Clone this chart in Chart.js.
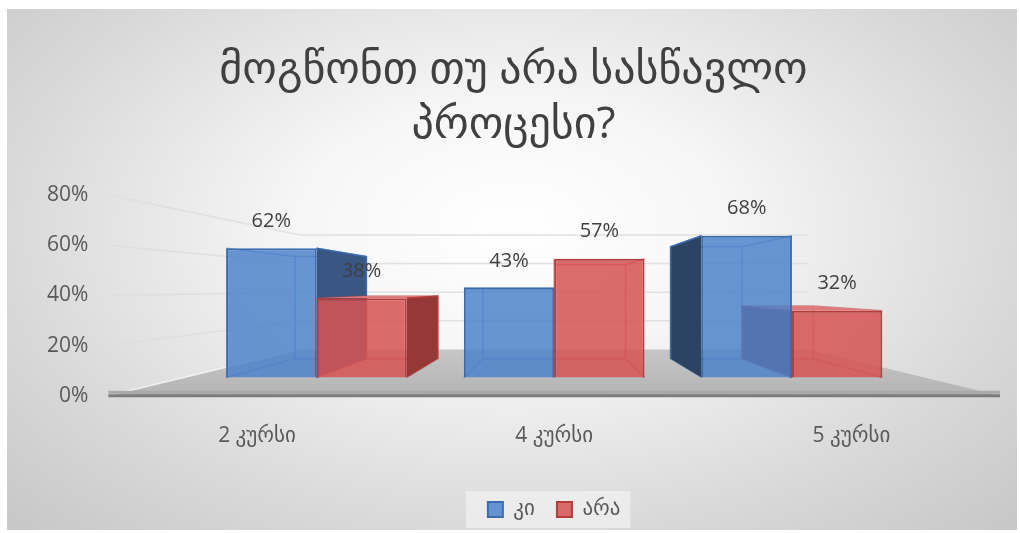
<!DOCTYPE html>
<html>
<head>
<meta charset="utf-8">
<script src="https://cdn.jsdelivr.net/npm/chart.js@4.4.0/dist/chart.umd.min.js"></script>
<style>
  html, body { margin: 0; padding: 0; background: #fff; }
  #wrap { position: absolute; left: 7px; top: 9px; width: 1010px; height: 521px; }
</style>
</head>
<body>
<div id="wrap"><canvas id="chart"></canvas></div>
<script>
const categories = ['2 კურსი', '4 კურსი', '5 კურსი'];
const seriesNames = ['კი', 'არა'];
const kiValues = [62, 43, 68];
const araValues = [38, 57, 32];
const yTicks = [0, 20, 40, 60, 80];
const titleLines = ['მოგწონთ თუ არა სასწავლო', 'პროცესი?'];

// perspective: bars stand a bit behind the front edge of the floor,
// the back wall further still, everything shrinks toward one vanishing point
const horizon = 43;       // % level where the vanishing point sits
const barPlaneX = 0.80;
const barPlaneY = 0.83;
const barDepth = 0.79;    // back face of a bar relative to its front face
const wallDepth = 0.57;   // back wall relative to the front of the floor

const yMax = yTicks[yTicks.length - 1];
const mid = (categories.length - 1) / 2;

const colors = {
    ki:  { front: 'rgba(76,130,203,0.84)', edge: '#3a6cb0', right: '#3a5783', left: '#2c4364', top: '#6f9ad6' },
    ara: { front: 'rgba(214,84,84,0.86)',  edge: '#b33c3c', right: '#973838', left: '#7e2f2f', top: '#e07a7a' }
};

Chart.defaults.font.family = "'Open Sans', 'DejaVu Sans', sans-serif";
Chart.defaults.color = '#595959';

function poly(ctx, pts, fill) {
    ctx.beginPath();
    ctx.moveTo(pts[0].x, pts[0].y);
    for (let i = 1; i < pts.length; i++) ctx.lineTo(pts[i].x, pts[i].y);
    ctx.closePath();
    ctx.fillStyle = fill;
    ctx.fill();
}

function vanishing(chart) {
    const a = chart.chartArea;
    return { x: (a.left + a.right) / 2, y: chart.scales.y.getPixelForValue(horizon) };
}

function toward(vp, p, k) {
    return { x: vp.x + k * (p.x - vp.x), y: vp.y + k * (p.y - vp.y) };
}

const scene = {
    id: 'scene',
    beforeDraw(chart) {
        const ctx = chart.ctx;
        const w = chart.width, h = chart.height;
        ctx.save();
        ctx.translate(w / 2, h * 0.42);
        ctx.scale(1, 0.6);
        const g = ctx.createRadialGradient(0, 0, 0, 0, 0, 720);
        g.addColorStop(0, '#ffffff');
        g.addColorStop(0.3, '#f6f6f6');
        g.addColorStop(0.7, '#d9d9d9');
        g.addColorStop(1, '#c6c6c6');
        ctx.fillStyle = g;
        ctx.fillRect(-w, -h * 2, w * 2, h * 4);
        ctx.restore();

        // legend sits on a lighter panel
        const boxes = chart.legend.legendHitBoxes;
        if (boxes && boxes.length) {
            const l = Math.min(...boxes.map(b => b.left)) - 22;
            const r = Math.max(...boxes.map(b => b.left + b.width)) + 10;
            const t = boxes[0].top - 8;
            ctx.fillStyle = 'rgba(240,240,240,0.75)';
            ctx.fillRect(l, t, r - l, boxes[0].height + 16);
        }
    },
    beforeDatasetsDraw(chart) {
        const ctx = chart.ctx;
        const a = chart.chartArea;
        const y = chart.scales.y;
        const vp = vanishing(chart);
        ctx.save();

        // grid lines run along the side wall and then across the back wall
        ctx.strokeStyle = 'rgba(222,222,222,0.9)';
        ctx.lineWidth = 1.5;
        yTicks.slice(1).forEach(v => {
            const p = { x: a.left, y: y.getPixelForValue(v) };
            const b1 = toward(vp, p, wallDepth);
            const b2 = toward(vp, { x: a.right, y: p.y }, wallDepth);
            ctx.beginPath();
            ctx.moveTo(p.x, p.y);
            ctx.lineTo(b1.x, b1.y);
            ctx.lineTo(b2.x, b2.y);
            ctx.stroke();
        });

        // floor
        const fl = { x: a.left, y: y.getPixelForValue(0) };
        const fr = { x: a.right, y: fl.y };
        const bl = toward(vp, fl, wallDepth);
        const br = toward(vp, fr, wallDepth);
        const fg = ctx.createLinearGradient(0, bl.y, 0, fl.y);
        fg.addColorStop(0, '#c6c6c6');
        fg.addColorStop(1, '#b4b4b4');
        poly(ctx, [fl, fr, br, bl], fg);
        ctx.strokeStyle = 'rgba(255,255,255,0.7)';
        ctx.lineWidth = 1.5;
        ctx.beginPath();
        ctx.moveTo(fl.x, fl.y);
        ctx.lineTo(bl.x, bl.y);
        ctx.stroke();
        ctx.fillStyle = '#a9a9a9';
        ctx.fillRect(fl.x, fl.y - 5, fr.x - fl.x, 3);
        ctx.strokeStyle = '#7c7c7c';
        ctx.lineWidth = 3;
        ctx.beginPath();
        ctx.moveTo(fl.x, fl.y);
        ctx.lineTo(fr.x, fr.y);
        ctx.stroke();

        // side, top and hidden edges of each bar; the front faces come from the bars themselves
        const sets = [colors.ki, colors.ara];
        chart.data.datasets.forEach((ds, di) => {
            const c = sets[di];
            chart.getDatasetMeta(di).data.forEach(el => {
                const l = el.x - el.width / 2, r = el.x + el.width / 2;
                const t = el.y, b = el.base;
                const P = (px, py) => toward(vp, { x: px, y: py }, barDepth);
                const tl = P(l, t), tr = P(r, t), blb = P(l, b), brb = P(r, b);

                ctx.strokeStyle = c.edge;
                ctx.globalAlpha = 0.55;
                ctx.lineWidth = 1.5;
                ctx.beginPath();
                ctx.moveTo(tl.x, tl.y); ctx.lineTo(tr.x, tr.y); ctx.lineTo(brb.x, brb.y);
                ctx.lineTo(blb.x, blb.y); ctx.closePath();
                ctx.moveTo(l, b); ctx.lineTo(blb.x, blb.y);
                ctx.moveTo(r, b); ctx.lineTo(brb.x, brb.y);
                ctx.moveTo(l, t); ctx.lineTo(tl.x, tl.y);
                ctx.moveTo(r, t); ctx.lineTo(tr.x, tr.y);
                ctx.stroke();
                ctx.globalAlpha = 1;

                if (t > vp.y) poly(ctx, [{ x: l, y: t }, { x: r, y: t }, tr, tl], c.top);
                if (r < vp.x) {
                    poly(ctx, [{ x: r, y: t }, tr, brb, { x: r, y: b }], c.right);
                    ctx.strokeStyle = c.edge;
                    ctx.lineWidth = 1.5;
                    ctx.beginPath();
                    ctx.moveTo(r, t); ctx.lineTo(tr.x, tr.y); ctx.lineTo(brb.x, brb.y);
                    ctx.stroke();
                }
                if (l > vp.x) {
                    poly(ctx, [{ x: l, y: t }, tl, blb, { x: l, y: b }], c.left);
                    ctx.strokeStyle = c.edge;
                    ctx.lineWidth = 1.5;
                    ctx.beginPath();
                    ctx.moveTo(l, t); ctx.lineTo(tl.x, tl.y); ctx.lineTo(blb.x, blb.y);
                    ctx.stroke();
                }
            });
        });
        ctx.restore();
    },
    afterDatasetsDraw(chart) {
        const ctx = chart.ctx;
        ctx.save();
        ctx.font = "20px 'Open Sans', 'DejaVu Sans', sans-serif";
        ctx.fillStyle = '#404040';
        ctx.textAlign = 'center';
        ctx.textBaseline = 'middle';
        chart.data.datasets.forEach((ds, di) => {
            chart.getDatasetMeta(di).data.forEach((el, i) => {
                ctx.fillText(ds.data[i].y + '%', el.x, el.y - 27);
            });
        });
        ctx.restore();
    }
};

new Chart(document.querySelector('#chart'), {
    type: 'bar',
    data: {
        labels: categories,
        datasets: [
            {
                label: seriesNames[0],
                data: kiValues.map((v, i) => ({ x: i, y: v })),
                xAxisID: 'xBar',
                yAxisID: 'yBar',
                backgroundColor: colors.ki.front,
                borderColor: colors.ki.edge,
                borderWidth: 2,
                categoryPercentage: 0.76,
                barPercentage: 1
            },
            {
                label: seriesNames[1],
                data: araValues.map((v, i) => ({ x: i, y: v })),
                xAxisID: 'xBar',
                yAxisID: 'yBar',
                backgroundColor: colors.ara.front,
                borderColor: colors.ara.edge,
                borderWidth: 2,
                categoryPercentage: 0.76,
                barPercentage: 1
            }
        ]
    },
    options: {
        responsive: true,
        maintainAspectRatio: false,
        animation: false,
        layout: { padding: { left: 20, right: 17, top: 0, bottom: 0 } },
        plugins: {
            title: {
                display: true,
                text: titleLines,
                color: '#404040',
                font: { size: 44, weight: 'normal', lineHeight: 1.25 },
                padding: { top: 34, bottom: 42 }
            },
            legend: {
                position: 'bottom',
                fullSize: false,
                labels: { boxWidth: 15, boxHeight: 15, font: { size: 21 }, color: '#595959', padding: 22 }
            },
            tooltip: { enabled: false }
        },
        scales: {
            x: {
                type: 'category',
                offset: true,
                grid: { display: false, drawTicks: false },
                border: { display: false },
                ticks: { padding: 28, font: { size: 21 } }
            },
            xBar: {
                type: 'linear',
                display: false,
                offset: false,
                min: mid - (mid + 0.5) / barPlaneX,
                max: mid + (mid + 0.5) / barPlaneX,
                // one tick per category so the bar width follows the category spacing
                afterBuildTicks: s => { s.ticks = categories.map((c, i) => ({ value: i })); }
            },
            y: {
                type: 'linear',
                position: 'left',
                min: 0,
                max: yMax,
                grid: { display: false, drawTicks: false },
                border: { display: false },
                ticks: { stepSize: 20, padding: 20, font: { size: 21 }, callback: v => v + '%' }
            },
            yBar: {
                type: 'linear',
                display: false,
                min: horizon - horizon / barPlaneY,
                max: horizon + (yMax - horizon) / barPlaneY
            }
        }
    },
    plugins: [scene]
});
</script>
</body>
</html>
